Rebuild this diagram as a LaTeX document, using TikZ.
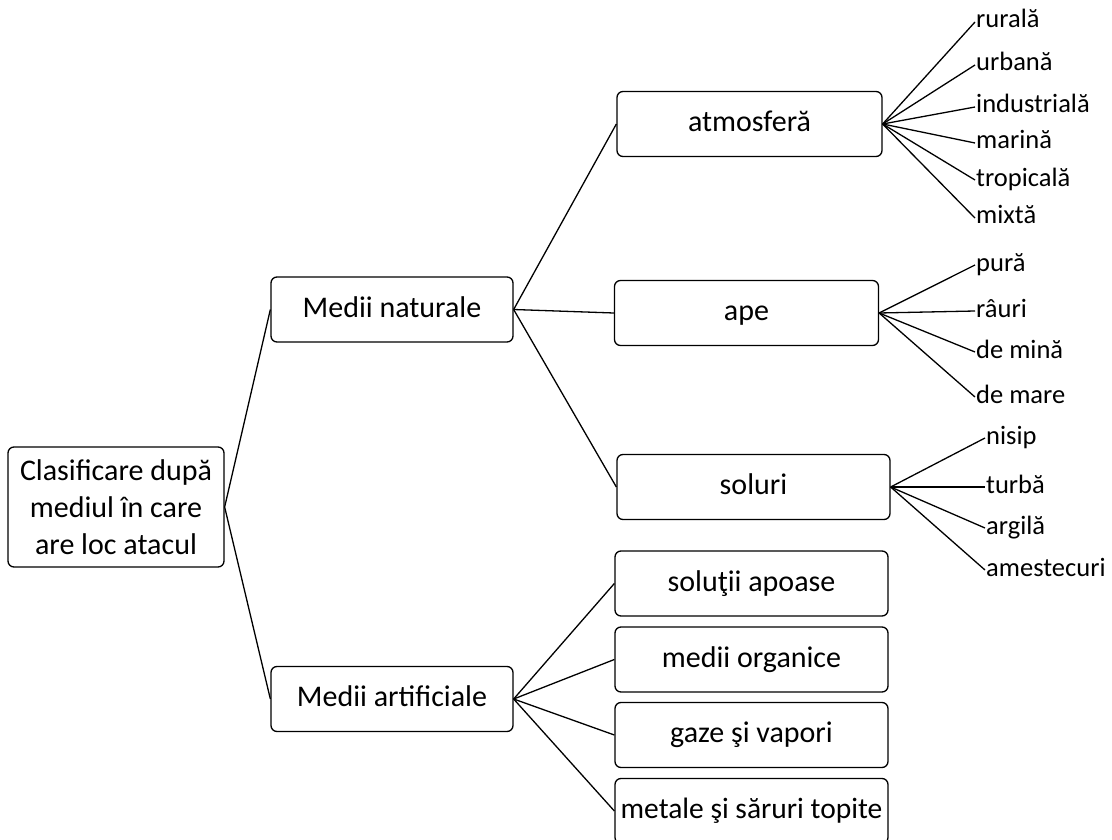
\documentclass[tikz,border=0pt]{standalone}
\usepackage{fontspec}
\setmainfont{Carlito}
\usetikzlibrary{positioning}

\tikzset{
  box/.style={draw, rounded corners=6pt, line width=1.3pt, minimum height=65pt,
    inner sep=0pt, align=center, text height=21pt, text depth=6pt,
    font=\fontsize{30}{37}\selectfont},
  leaf/.style={anchor=west, inner sep=1pt, text height=12pt, text depth=0pt,
    font=\fontsize{26.5}{30}\selectfont},
  link/.style={line width=1.3pt}
}

\begin{document}
\begin{tikzpicture}[x=1pt,y=-1pt]
\useasboundingbox (0,0) rectangle (1112,840);

% main boxes
\node[box, minimum width=216pt, minimum height=120pt, text height=, text depth=] (root) at (116,507) {Clasificare după\\mediul în care\\are loc atacul};
\node[box, minimum width=242pt] (nat) at (392,309.5) {Medii naturale};
\node[box, minimum width=242pt] (art) at (392,699) {Medii artificiale};

\node[box, minimum width=265pt] (atm) at (749.5,124) {atmosferă};
\node[box, minimum width=264pt] (ape) at (746.5,313) {ape};
\node[box, minimum width=273pt] (sol) at (753.5,487) {soluri};

\node[box, minimum width=273pt] (apo) at (751.5,583.5) {soluţii apoase};
\node[box, minimum width=273pt] (org) at (751.5,659.5) {medii organice};
\node[box, minimum width=273pt] (gaz) at (751.5,735) {gaze şi vapori};
\node[box, minimum width=273pt, font=\fontsize{29.5}{37}\selectfont] (met) at (751.5,811) {metale şi săruri topite};

\draw[link] (root.east) -- (nat.west);
\draw[link] (root.east) -- (art.west);
\draw[link] (nat.east) -- (atm.west);
\draw[link] (nat.east) -- (ape.west);
\draw[link] (nat.east) -- (sol.west);
\draw[link] (art.east) -- (apo.west);
\draw[link] (art.east) -- (org.west);
\draw[link] (art.east) -- (gaz.west);
\draw[link] (art.east) -- (met.west);

% leaves
\foreach \y/\name/\txt in {22/a1/rurală, 65/a2/urbană, 107/a3/industrială,
    143/a4/marină, 180/a5/tropicală, 218/a6/mixtă} {
  \node[leaf] (\name) at (975,\y) {\txt};
  \draw[link] (atm.east) -- (\name.west);
}
\foreach \y/\name/\txt in {265/w1/pură, 311/w2/râuri, 352/w3/de mină, 397/w4/de mare} {
  \node[leaf] (\name) at (975,\y) {\txt};
  \draw[link] (ape.east) -- (\name.west);
}
\foreach \y/\name/\txt in {438/s1/nisip, 487/s2/turbă, 528/s3/argilă, 570/s4/amestecuri} {
  \node[leaf] (\name) at (985,\y) {\txt};
  \draw[link] (sol.east) -- (\name.west);
}
\end{tikzpicture}
\end{document}
